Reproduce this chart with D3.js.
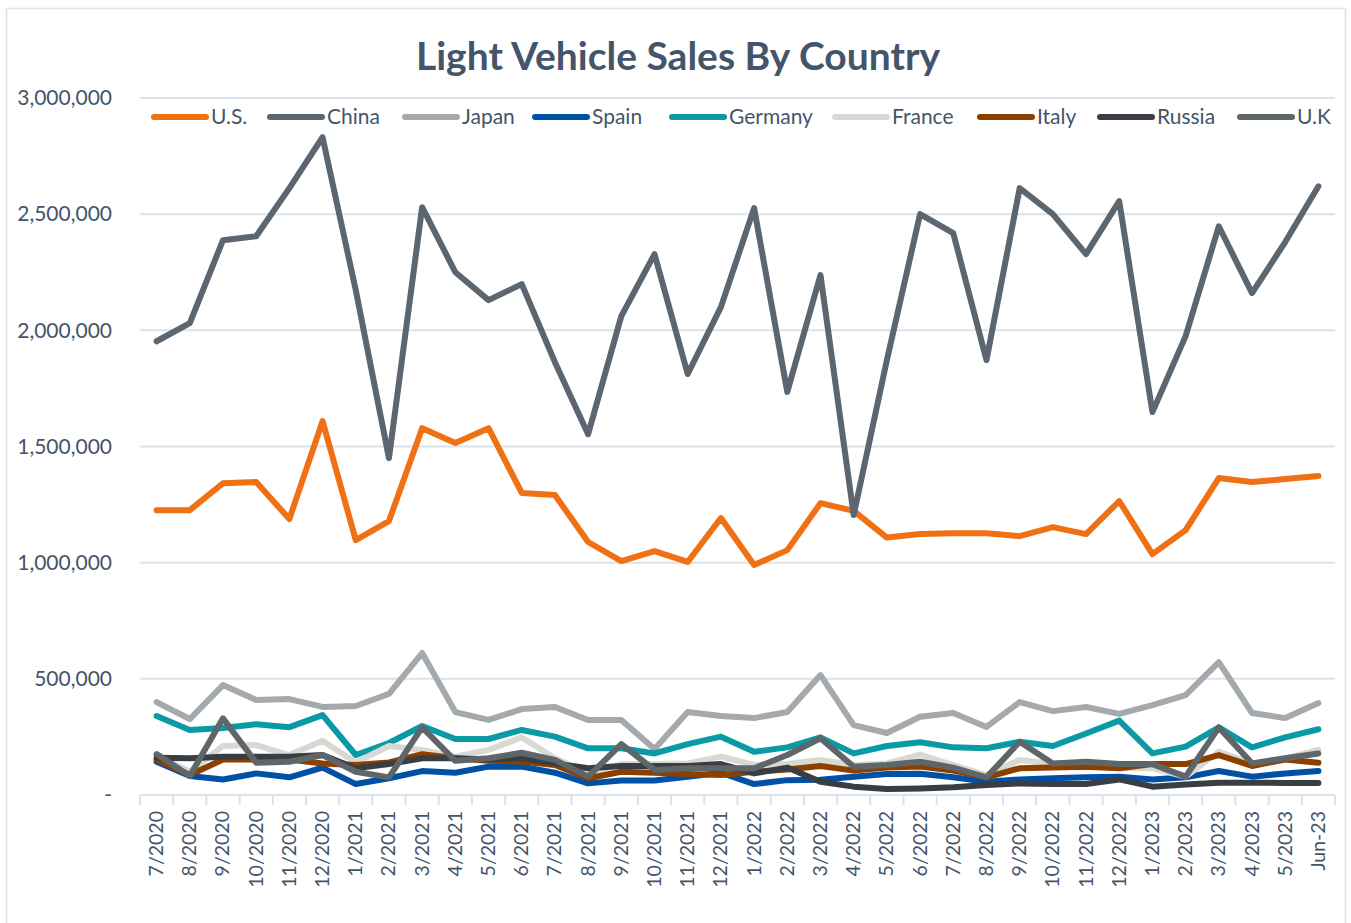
<!DOCTYPE html>
<html>
  <head>
    <meta charset="utf-8">
    <script src="https://cdn.jsdelivr.net/npm/d3@7"></script>
    <style>
      body { margin: 0; background: #fff; }
      text { font-family: Lato, "Open Sans", sans-serif; fill: #44546a; }
    </style>
  </head>
<body>
<script type="text/javascript">

// month labels, one per point
var months = ["7/2020","8/2020","9/2020","10/2020","11/2020","12/2020",
  "1/2021","2/2021","3/2021","4/2021","5/2021","6/2021","7/2021","8/2021","9/2021","10/2021","11/2021","12/2021",
  "1/2022","2/2022","3/2022","4/2022","5/2022","6/2022","7/2022","8/2022","9/2022","10/2022","11/2022","12/2022",
  "1/2023","2/2023","3/2023","4/2023","5/2023","Jun-23"];

var countries = ["U.S.","China","Japan","Spain","Germany","France","Italy","Russia","U.K"];

// sales, units per month
var us = [1226000,1226000,1342000,1347000,1188000,1609000,1097000,1179000,1579000,1515000,1579000,1300000,
  1291000,1089000,1007000,1050000,1003000,1192000,990000,1054000,1256000,1223000,1108000,1123000,
  1127000,1127000,1114000,1153000,1123000,1265000,1037000,1140000,1364000,1347000,1360000,1373000];
var china = [1953000,2031000,2388000,2405000,2612000,2831000,2173000,1450000,2530000,2250000,2130000,2199000,
  1863000,1553000,2061000,2328000,1812000,2100000,2526000,1735000,2238000,1205000,1872000,2500000,
  2418000,1872000,2612000,2500000,2328000,2556000,1648000,1975000,2448000,2160000,2380000,2620000];
var japan = [400000,327000,473000,409000,413000,379000,383000,435000,611000,357000,323000,370000,
  379000,323000,323000,198000,357000,340000,331000,357000,516000,301000,267000,337000,
  353000,293000,400000,361000,379000,349000,387000,430000,572000,353000,331000,396000];
var spain = [143000,82000,67000,93000,76000,118000,47000,72000,103000,96000,122000,122000,
  96000,50000,62000,62000,79000,96000,47000,64000,66000,79000,90000,91000,
  76000,57000,67000,72000,76000,79000,67000,76000,103000,79000,93000,103000];
var germany = [340000,280000,288000,305000,292000,344000,172000,224000,297000,241000,241000,280000,
  251000,201000,201000,179000,219000,251000,186000,205000,248000,179000,211000,227000,
  205000,201000,229000,211000,265000,320000,179000,208000,291000,205000,248000,283000];
var france = [172000,100000,211000,215000,172000,234000,140000,211000,194000,165000,194000,248000,
  158000,93000,133000,133000,136000,165000,129000,133000,151000,129000,136000,174000,
  129000,86000,151000,133000,136000,115000,115000,79000,186000,136000,158000,194000];
var italy = [153000,86000,153000,153000,153000,136000,129000,140000,176000,158000,147000,144000,
  129000,72000,100000,96000,90000,86000,100000,110000,125000,105000,118000,123000,
  105000,76000,115000,118000,122000,115000,133000,133000,172000,125000,153000,139000];
var russia = [160000,158000,165000,165000,165000,172000,115000,133000,158000,158000,153000,158000,
  136000,115000,125000,125000,125000,133000,93000,118000,57000,36000,26000,28000,
  33000,43000,50000,47000,47000,67000,36000,45000,53000,53000,52000,52000];
var uk = [176000,82000,330000,139000,143000,172000,100000,76000,291000,147000,158000,182000,
  151000,79000,219000,108000,115000,115000,115000,172000,244000,122000,129000,143000,
  118000,76000,229000,136000,143000,133000,133000,79000,291000,136000,158000,179000];

var yTicks = [0,500000,1000000,1500000,2000000,2500000,3000000];
var colors = ["#f07014","#5c6670","#a3a9ac","#0050a6","#0a9aa6","#d9d9d4","#8c4000","#383e44","#5f6669"];

var series = [us,china,japan,spain,germany,france,italy,russia,uk];

var W = 1351, H = 923;
var plotL = 140, plotR = 1335, plotT = 98, plotB = 795;

var svg = d3.select("body").append("svg")
  .attr("width", W).attr("height", H);

// chart frame
svg.append("rect")
  .attr("x", 6.5).attr("y", 8.5).attr("width", 1339).attr("height", 930)
  .attr("fill", "#fff").attr("stroke", "#dde2ea").attr("stroke-width", 1.5);

var x = d3.scalePoint().domain(months).range([plotL, plotR]).padding(0.5);
var step = x.step();
var y = d3.scaleLinear().domain([0, 3000000]).range([plotB, plotT]);

// gridlines
svg.append("g").selectAll("line")
  .data(yTicks.slice(1))
  .enter().append("line")
  .attr("x1", plotL).attr("x2", plotR)
  .attr("y1", function (d) { return y(d); }).attr("y2", function (d) { return y(d); })
  .attr("stroke", "#dde2ea").attr("stroke-width", 2);

// y axis labels
var yAxis = d3.axisLeft(y).tickValues(yTicks).tickSize(0).tickPadding(0)
  .tickFormat(function (d) { return d === 0 ? "-" : d3.format(",")(d); });
var gy = svg.append("g").attr("transform", "translate(112,0)").call(yAxis);
gy.select(".domain").remove();
gy.selectAll("text").style("font-size", "21px").attr("fill", "#44546a")
  .style("font-family", "Lato, 'Open Sans', sans-serif");

// x axis
svg.append("line")
  .attr("x1", plotL).attr("x2", plotR).attr("y1", plotB).attr("y2", plotB)
  .attr("stroke", "#dde2ea").attr("stroke-width", 2);
var bounds = d3.range(months.length + 1);
svg.append("g").selectAll("line")
  .data(bounds).enter().append("line")
  .attr("x1", function (i) { return plotL + i * step; })
  .attr("x2", function (i) { return plotL + i * step; })
  .attr("y1", plotB).attr("y2", plotB + 10)
  .attr("stroke", "#dde2ea").attr("stroke-width", 2);

svg.append("g").selectAll("text")
  .data(months).enter().append("text")
  .attr("transform", function (d) { return "translate(" + (x(d) + 6.5) + "," + (plotB + 16) + ") rotate(-90)"; })
  .attr("text-anchor", "end")
  .style("font-size", "19.5px")
  .text(function (d) { return d; });

// lines
var line = d3.line()
  .x(function (d, i) { return x(months[i]); })
  .y(function (d) { return y(d); });

svg.append("g").selectAll("path")
  .data(series).enter().append("path")
  .attr("d", line)
  .attr("fill", "none")
  .attr("stroke", function (d, i) { return colors[i]; })
  .attr("stroke-width", 6)
  .attr("stroke-linejoin", "round")
  .attr("stroke-linecap", "round");

// legend
var legendX = [152, 268, 403, 533, 670, 833, 978, 1098, 1238];
var leg = svg.append("g").selectAll("g")
  .data(countries).enter().append("g")
  .attr("transform", function (d, i) { return "translate(" + legendX[i] + ",117)"; });
leg.append("line")
  .attr("x1", 2).attr("x2", 54)
  .attr("stroke", function (d, i) { return colors[i]; })
  .attr("stroke-width", 6).attr("stroke-linecap", "round");
leg.append("text")
  .attr("x", 59).attr("dy", "0.35em")
  .style("font-size", "21px")
  .text(function (d) { return d; });

// title
svg.append("text")
  .attr("x", 678).attr("y", 70)
  .attr("text-anchor", "middle")
  .style("font-size", "39px").style("font-weight", "bold")
  .text("Light Vehicle Sales By Country");

</script>
</body>
</html>
